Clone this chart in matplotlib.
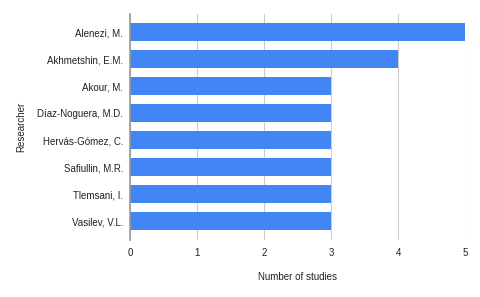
import matplotlib.pyplot as plt

plt.rcParams['font.family'] = ['Liberation Sans', 'DejaVu Sans']

researchers = ["Alenezi, M.", "Akhmetshin, E.M.", "Akour, M.", "Díaz-Noguera, M.D.",
               "Hervás-Gómez, C.", "Safiullin, M.R.", "Tlemsani, I.", "Vasilev, V.L."]
studies = [5, 4, 3, 3, 3, 3, 3, 3]

fig = plt.figure(figsize=(4.8, 2.97), dpi=100)
ax = fig.add_axes([0.271, 0.192, 0.698, 0.761])

ax.barh(range(len(researchers)), studies, height=0.67, color="#4285F4", zorder=3)

ax.set_ylim(7.7, -0.67)
ax.set_xlim(0, 5)
ax.set_xticks(range(6))
ax.set_yticks(range(len(researchers)))
ax.set_yticklabels(researchers)
ax.tick_params(axis='both', length=0, labelsize=7, colors="#222222")
ax.tick_params(axis='x', pad=6)
ax.tick_params(axis='y', pad=5)
ax.grid(True, axis='x', color="#cccccc", linewidth=0.8, zorder=0)

for s in ["top", "right", "bottom"]:
    ax.spines[s].set_visible(False)
ax.spines["left"].set_color("#999999")
ax.spines["left"].set_linewidth(1.2)
ax.spines["left"].set_zorder(4)

ax.set_xlabel("Number of studies", fontsize=7, color="#222222", labelpad=10)
ax.set_ylabel("Researcher", fontsize=7, color="#222222", labelpad=8)

fig.savefig("out.png", dpi=100)
